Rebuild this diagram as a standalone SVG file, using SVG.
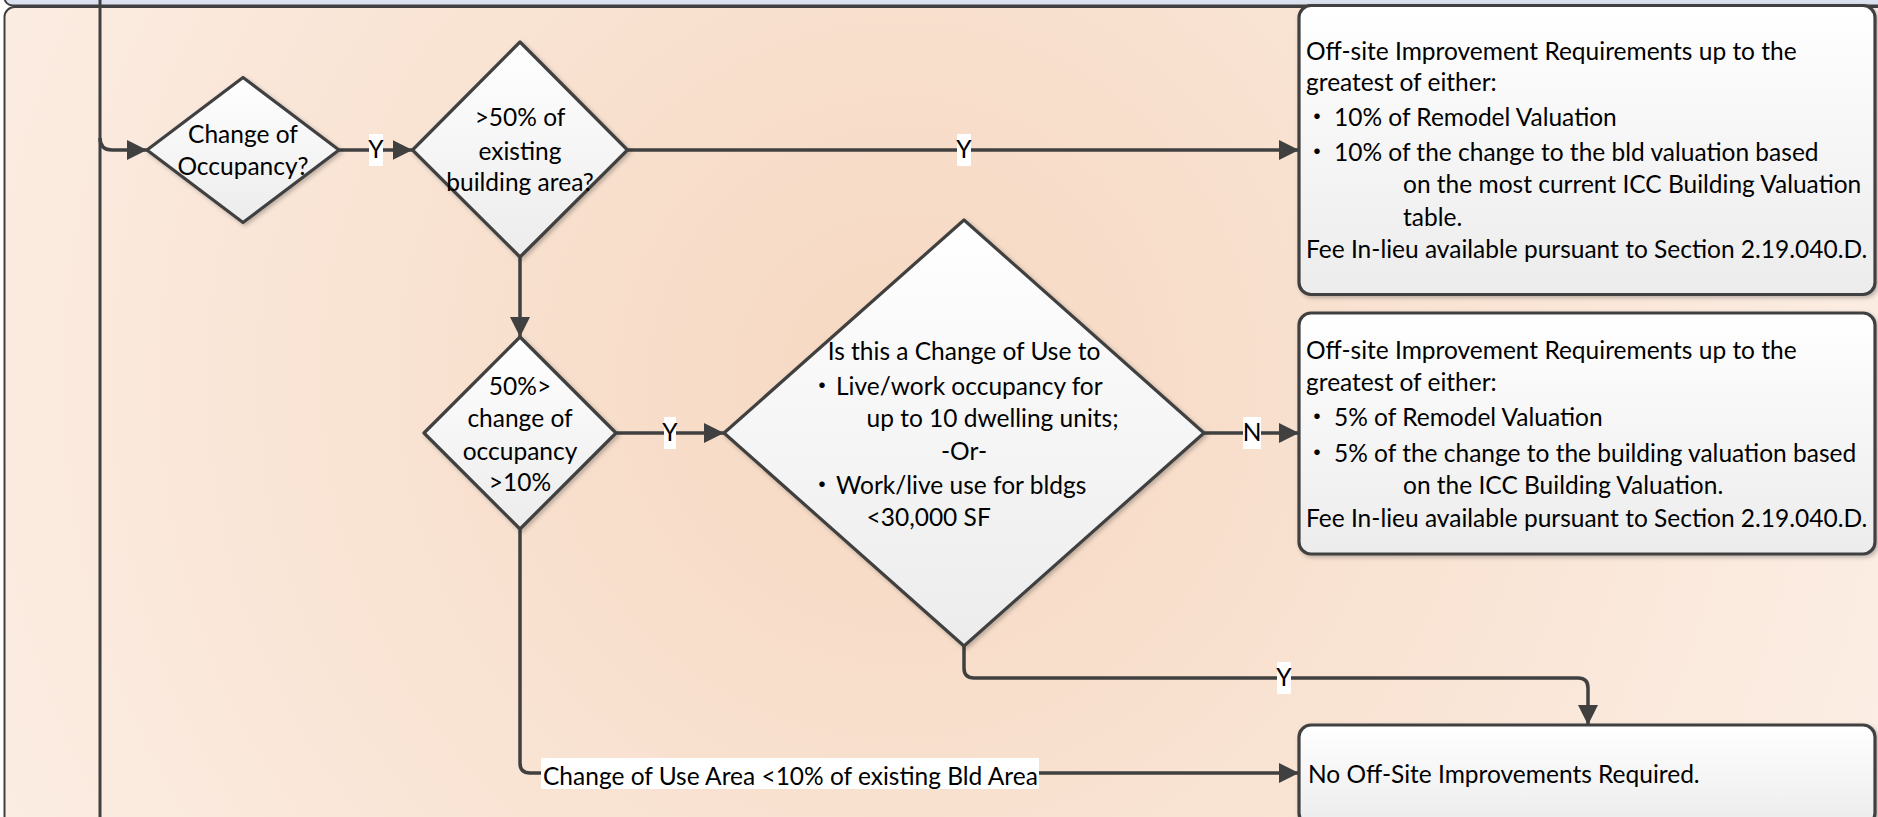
<svg xmlns="http://www.w3.org/2000/svg" width="1878" height="817" viewBox="0 0 1878 817">
<style>
.t{font-family:Lato,"Open Sans","Liberation Sans","Noto Sans CJK JP",sans-serif;font-size:24.5px;fill:#000}
.c{text-anchor:middle}
.b{font-family:"Noto Sans CJK JP","Noto Sans",sans-serif;font-size:26px;text-anchor:middle}
.node{stroke:#404040;stroke-width:3.2;stroke-linejoin:round}
.dia{fill:url(#gNode);filter:url(#sh)}
.box{fill:url(#gNode);filter:url(#sh)}
.con{fill:none;stroke:#404040;stroke-width:3.5}
.lbl{fill:#ffffff}
.lane{stroke:#404040;stroke-width:2}
</style>
<defs>
<linearGradient id="gNode" x1="0" y1="0" x2="0" y2="1">
<stop offset="0" stop-color="#ffffff"/>
<stop offset="1" stop-color="#ececec"/>
</linearGradient>
<radialGradient id="gLane" cx="900" cy="380" r="1100" gradientUnits="userSpaceOnUse">
<stop offset="0" stop-color="#f6d8c1"/>
<stop offset="1" stop-color="#fcefe6"/>
</radialGradient>
<filter id="sh" x="-10%" y="-10%" width="125%" height="125%">
<feDropShadow dx="2" dy="2" stdDeviation="2" flood-color="#000" flood-opacity="0.25"/>
</filter>
<marker id="arr" markerUnits="userSpaceOnUse" markerWidth="22" markerHeight="22" refX="20" refY="10" orient="auto">
<path d="M0,0 L20,10 L0,20 z" fill="#404040"/>
</marker>
</defs>

<g id="lanes">
<rect class="lane" x="4.5" y="-40" width="1900" height="45.5" rx="8" fill="#dbe1ee"/>
<rect class="lane" x="4.5" y="7" width="1900" height="860" rx="10" fill="url(#gLane)"/>
<line x1="100" y1="0" x2="100" y2="817" stroke="#404040" stroke-width="3"/>
</g>

<g id="connectors">
<path class="con" d="M100,138 Q100,150 112,150 H147" marker-end="url(#arr)"/>
<path class="con" d="M339,150 H412.5" marker-end="url(#arr)"/>
<path class="con" d="M627.5,150 H1299" marker-end="url(#arr)"/>
<path class="con" d="M520,257 V337" marker-end="url(#arr)"/>
<path class="con" d="M616,433 H724" marker-end="url(#arr)"/>
<path class="con" d="M1204,433 H1299" marker-end="url(#arr)"/>
<path class="con" d="M964,646 V668 Q964,678 974,678 H1578 Q1588,678 1588,688 V725" marker-end="url(#arr)"/>
<path class="con" d="M520,529 V763 Q520,773 530,773 H1299" marker-end="url(#arr)"/>
<rect class="lbl" x="369" y="134" width="14" height="32"/>
<text class="t c" x="376" y="158">Y</text>
<rect class="lbl" x="957" y="134" width="14" height="32"/>
<text class="t c" x="964" y="158">Y</text>
<rect class="lbl" x="664" y="417" width="12" height="32"/>
<text class="t c" x="670" y="441">Y</text>
<rect class="lbl" x="1243" y="417" width="18" height="32"/>
<text class="t c" x="1252" y="441">N</text>
<rect class="lbl" x="1277" y="662" width="14" height="32"/>
<text class="t c" x="1284" y="686">Y</text>
<rect class="lbl" x="541" y="758" width="498" height="31"/>
<text class="t" x="543" y="785">Change of Use Area &lt;10% of existing Bld Area</text>
</g>

<g id="d1">
<polygon class="node dia" points="243,77.5 339,150 243,222.5 147,150"/>
<text class="t c" x="243" y="143">Change of</text>
<text class="t c" x="243" y="175">Occupancy?</text>
</g>

<g id="d2">
<polygon class="node dia" points="520,42 627.5,150 520,257 412.5,150"/>
<text class="t c" x="520" y="126">&gt;50% of</text>
<text class="t c" x="520" y="160">existing</text>
<text class="t c" x="520" y="191">building area?</text>
</g>

<g id="d4">
<polygon class="node dia" points="520,337 616,433 520,529 424,433"/>
<text class="t c" x="520" y="395">50%&gt;</text>
<text class="t c" x="520" y="427">change of</text>
<text class="t c" x="520" y="460">occupancy</text>
<text class="t c" x="520" y="491">&gt;10%</text>
</g>

<g id="d5">
<polygon class="node dia" points="964,220 1204,433 964,646 724,433"/>
<text class="t c" x="964" y="360">Is this a Change of Use to</text>
<text class="b" x="822" y="395">・</text>
<text class="t" x="836" y="395">Live/work occupancy for</text>
<text class="t" x="866.5" y="427">up to 10 dwelling units;</text>
<text class="t c" x="964" y="460">-Or-</text>
<text class="b" x="822" y="494">・</text>
<text class="t" x="836" y="494">Work/live use for bldgs</text>
<text class="t" x="866.5" y="526">&lt;30,000 SF</text>
</g>

<g id="box1">
<rect class="node box" x="1299" y="5.5" width="576" height="289" rx="12"/>
<text class="t" x="1306" y="60">Off-site Improvement Requirements up to the</text>
<text class="t" x="1306" y="91">greatest of either:</text>
<text class="b" x="1317" y="126">・</text>
<text class="t" x="1334" y="126">10% of Remodel Valuation</text>
<text class="b" x="1317" y="161">・</text>
<text class="t" x="1334" y="161">10% of the change to the bld valuation based</text>
<text class="t" x="1403" y="193">on the most current ICC Building Valuation</text>
<text class="t" x="1403" y="226">table.</text>
<text class="t" x="1306" y="258">Fee In-lieu available pursuant to Section 2.19.040.D.</text>
</g>

<g id="box2">
<rect class="node box" x="1299" y="313" width="576" height="241" rx="12"/>
<text class="t" x="1306" y="359">Off-site Improvement Requirements up to the</text>
<text class="t" x="1306" y="391">greatest of either:</text>
<text class="b" x="1317" y="426">・</text>
<text class="t" x="1334" y="426">5% of Remodel Valuation</text>
<text class="b" x="1317" y="462">・</text>
<text class="t" x="1334" y="462">5% of the change to the building valuation based</text>
<text class="t" x="1403" y="494">on the ICC Building Valuation.</text>
<text class="t" x="1306" y="527">Fee In-lieu available pursuant to Section 2.19.040.D.</text>
</g>

<g id="box3">
<rect class="node box" x="1299" y="725" width="576" height="100" rx="12"/>
<text class="t" x="1308" y="783">No Off-Site Improvements Required.</text>
</g>
</svg>
